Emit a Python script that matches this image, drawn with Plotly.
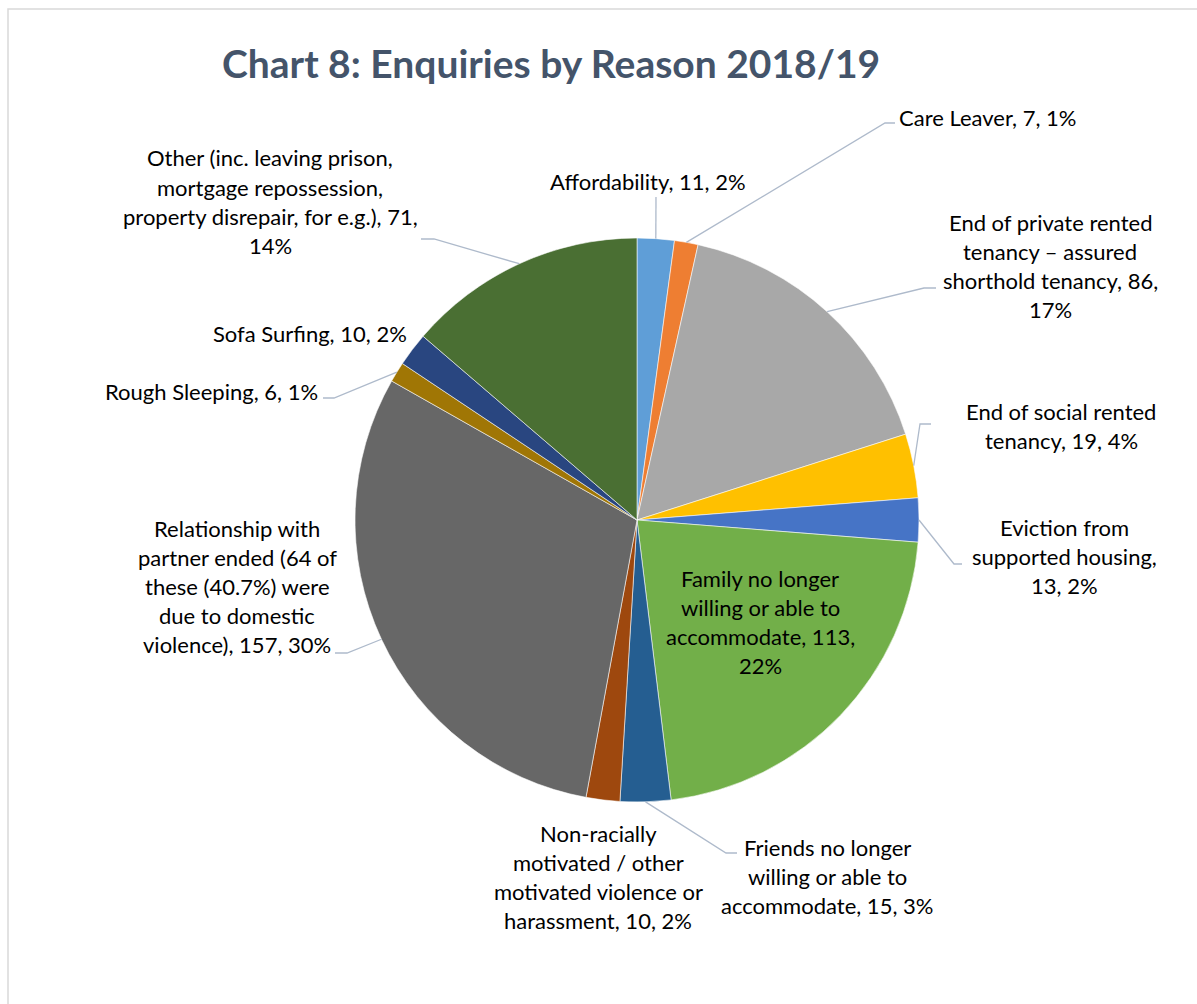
import math
import plotly.graph_objects as go

# ---- data ----
reasons = [
    "Affordability",
    "Care Leaver",
    "End of private rented tenancy \u2013 assured shorthold tenancy",
    "End of social rented tenancy",
    "Eviction from supported housing",
    "Family no longer willing or able to accommodate",
    "Friends no longer willing or able to accommodate",
    "Non-racially motivated / other motivated violence or harassment",
    "Relationship with partner ended (64 of these (40.7%) were due to domestic violence)",
    "Rough Sleeping",
    "Sofa Surfing",
    "Other (inc. leaving prison, mortgage repossession, property disrepair, for e.g.)",
]
enquiries = [11, 7, 86, 19, 13, 113, 15, 10, 157, 6, 10, 71]
percent_labels = [2, 1, 17, 4, 2, 22, 3, 2, 30, 1, 2, 14]

colors = [
    "#5F9ED7", "#EE7E32", "#A8A8A8", "#FFC000", "#4674C6", "#72AF49",
    "#255E91", "#9E480E", "#676767", "#A07605", "#294680", "#4A6F33",
]

title_text = "Chart 8: Enquiries by Reason 2018/19"

# ---- layout geometry (pixels) ----
W, H = 1197, 1004
CX, CY, R = 637, 520, 282

FONT = "Lato"
LABEL_SIZE = 22
LINE_PITCH = 29.2
LEADER_COLOR = "#AEBACB"


def px(x):
    return x / W


def py(y):
    return 1 - y / H


# words per text line, label centre (x, first line y), leader elbow points
label_layout = [
    ([3], (648, 181), [(656, 197)]),
    ([4], (987, 117), [(885, 123), (895, 123)]),
    ([4, 3, 3, 1], (1050, 222), [(924, 288), (936, 288)]),
    ([4, 3], (1061, 411), [(920, 424), (931, 424)]),
    ([2, 2, 2], (1064, 527), [(954, 564), (962, 564)]),
    ([3, 4, 2, 1], (760, 578), None),
    ([3, 4, 3], (827, 847), [(726, 853), (737, 853)]),
    ([1, 3, 3, 3], (598, 833), None),
    ([2, 4, 3, 3, 3], (237, 528), [(347, 653), (335, 653)]),
    ([4], (211, 391), [(334, 398), (323, 398)]),
    ([4], (310, 334), None),
    ([4, 2, 5, 1], (270, 158), [(434, 239), (421, 239)]),
]

total = sum(enquiries)

fig = go.Figure()
fig.add_trace(go.Pie(
    labels=reasons,
    values=enquiries,
    sort=False,
    direction="clockwise",
    rotation=0,
    textinfo="none",
    hoverinfo="label+value+percent",
    marker=dict(colors=colors, line=dict(color="rgba(255,255,255,0.7)", width=0.8)),
    domain=dict(x=[px(CX - R), px(CX + R)], y=[py(CY + R), py(CY - R)]),
    showlegend=False,
))

annotations = []
shapes = []

cum = 0
for name, value, pct, (words_per_line, (lx, ly), elbow) in zip(
        reasons, enquiries, percent_labels, label_layout):
    words = f"{name}, {value}, {pct}%".split(" ")
    lines = []
    i = 0
    for n in words_per_line:
        lines.append(" ".join(words[i:i + n]))
        i += n
    for k, line in enumerate(lines):
        annotations.append(dict(
            x=px(lx), y=py(ly + k * LINE_PITCH), xref="paper", yref="paper",
            text=line, showarrow=False, xanchor="center", yanchor="middle",
            font=dict(family=FONT, size=LABEL_SIZE, color="#000000"),
        ))
    # leader line from the slice's mid-angle on the rim
    theta = math.radians((cum + value / 2) / total * 360)
    cum += value
    if elbow:
        sx = CX + R * math.sin(theta)
        sy = CY - R * math.cos(theta)
        path = f"M {px(sx)},{py(sy)}"
        for ex, ey in elbow:
            path += f" L {px(ex)},{py(ey)}"
        shapes.append(dict(type="path", xref="paper", yref="paper", path=path,
                           line=dict(color=LEADER_COLOR, width=1.3)))

# chart area border
shapes.append(dict(type="rect", xref="paper", yref="paper",
                   x0=px(8), y0=py(9), x1=1.02, y1=-0.02,
                   line=dict(color="#D9D9D9", width=1.5)))

annotations.append(dict(
    x=px(551), y=py(63), xref="paper", yref="paper", text=f"<b>{title_text}</b>",
    showarrow=False, xanchor="center", yanchor="middle",
    font=dict(family=FONT, size=39, color="#44546A"),
))

fig.update_layout(
    width=W, height=H,
    margin=dict(l=0, r=0, t=0, b=0),
    paper_bgcolor="white",
    plot_bgcolor="white",
    annotations=annotations,
    shapes=shapes,
)

fig.write_html("out.html")
